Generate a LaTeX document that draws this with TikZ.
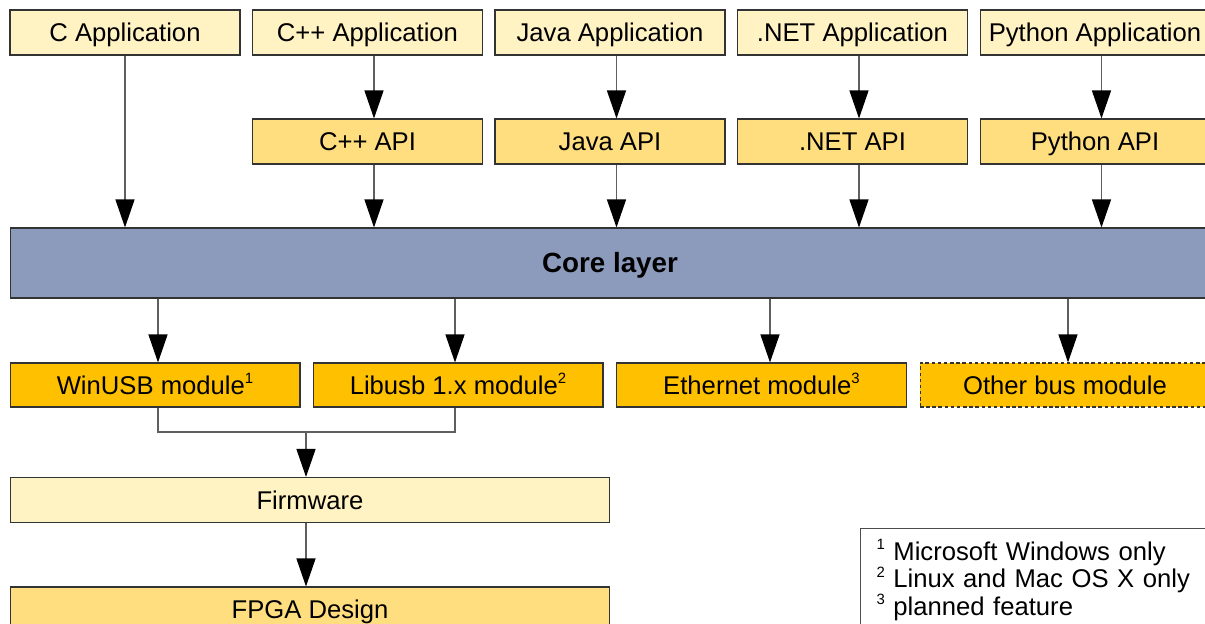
\documentclass[tikz,border=0pt]{standalone}
\usepackage{fontspec}
\setmainfont{Liberation Sans}
\usetikzlibrary{arrows.meta}

\definecolor{appfill}{RGB}{255,242,195}
\definecolor{apifill}{RGB}{255,222,128}
\definecolor{modfill}{RGB}{255,192,0}
\definecolor{corefill}{RGB}{140,154,188}
\definecolor{linegray}{RGB}{95,95,95}

\newcommand{\fnmark}[1]{\raisebox{0.42em}{\fontsize{8.5}{8.5}\selectfont #1}}

\tikzset{
  box/.style={draw=black!80, line width=0.6pt, inner sep=0pt,
    text height=10.4pt, text depth=0pt,
    font=\fontsize{14.6}{17}\selectfont},
  appbox/.style={box, fill=appfill, minimum width=4.6cm, minimum height=0.9cm},
  apibox/.style={box, fill=apifill, minimum width=4.6cm, minimum height=0.9cm},
  modbox/.style={box, fill=modfill, minimum width=5.8cm, minimum height=0.88cm},
  corebox/.style={box, fill=corefill, minimum width=24cm, minimum height=1.4cm,
    text height=11.3pt, font=\fontsize{15.8}{18}\selectfont\bfseries},
  widebox/.style={box, minimum width=12cm, minimum height=0.9cm},
  link/.style={draw=linegray, line width=0.7pt},
  arr/.style={link, -{Triangle[length=5.6mm,width=3.8mm,color=black]}}
}

\begin{document}
\begin{tikzpicture}[x=0.02cm, y=-0.02cm]
			\useasboundingbox (0,0) rectangle (1205,624);
			\clip (0,0) rectangle (1205,624);

			% applications
			\node[appbox] (capp) at (125,32.5) {C Application};
			\node[appbox] (cppapp) at (367.5,32.5) {C++ Application};
			\node[appbox] (javaapp) at (610,32.5) {Java Application};
			\node[appbox] (netapp) at (852.5,32.5) {.NET Application};
			\node[appbox] (pyapp) at (1095,32.5) {Python Application};

			% language bindings
			\node[apibox] (cppapi) at (367.5,141.5) {C++ API};
			\node[apibox] (javaapi) at (610,141.5) {Java API};
			\node[apibox] (netapi) at (852.5,141.5) {.NET API};
			\node[apibox] (pyapi) at (1095,141.5) {Python API};

			\node[corebox] (core) at (610,263) {Core layer};

			% bus modules
			\node[modbox] (winusb) at (155,385) {WinUSB module\fnmark{1}};
			\node[modbox] (libusb) at (458,385) {Libusb 1.x module\fnmark{2}};
			\node[modbox] (eth) at (761.5,385) {Ethernet module\fnmark{3}};
			\node[modbox, dash pattern=on 2pt off 1.5pt] (otherbus) at (1065,385) {Other bus module};

			\node[widebox, fill=appfill] (firmware) at (310,500) {Firmware};
			\node[widebox, fill=apifill] (fpga) at (310,609.5) {FPGA Design};

			\node[draw=black!70, line width=0.6pt, anchor=north west, align=left,
				text width=6.8cm, inner xsep=0.32cm, inner ysep=0.22cm,
				font=\fontsize{14.6}{15.6}\selectfont] (notes) at (860,528)
				{\fnmark{1} Microsoft Windows only\\
				 \fnmark{2} Linux and Mac OS X only\\
				 \fnmark{3} planned feature};

			% arrows
			\draw[arr] (capp.south) -- (capp.south |- core.north);
			\draw[arr] ([xshift=0.13cm]cppapp.south) -- ([xshift=0.13cm]cppapi.north);
			\draw[arr] ([xshift=0.13cm]javaapp.south) -- ([xshift=0.13cm]javaapi.north);
			\draw[arr] ([xshift=0.13cm]netapp.south) -- ([xshift=0.13cm]netapi.north);
			\draw[arr] ([xshift=0.13cm]pyapp.south) -- ([xshift=0.13cm]pyapi.north);
			\draw[arr] ([xshift=0.13cm]cppapi.south) -- ([xshift=0.13cm]cppapi.south |- core.north);
			\draw[arr] ([xshift=0.13cm]javaapi.south) -- ([xshift=0.13cm]javaapi.south |- core.north);
			\draw[arr] ([xshift=0.13cm]netapi.south) -- ([xshift=0.13cm]netapi.south |- core.north);
			\draw[arr] ([xshift=0.13cm]pyapi.south) -- ([xshift=0.13cm]pyapi.south |- core.north);

			\draw[arr] ([xshift=0.06cm]winusb.north |- core.south) -- ([xshift=0.06cm]winusb.north);
			\draw[arr] ([xshift=-0.06cm]libusb.north |- core.south) -- ([xshift=-0.06cm]libusb.north);
			\draw[arr] ([xshift=0.17cm]eth.north |- core.south) -- ([xshift=0.17cm]eth.north);
			\draw[arr] ([xshift=0.06cm]otherbus.north |- core.south) -- ([xshift=0.06cm]otherbus.north);

			\coordinate (merge) at (306,432);
			\draw[link] ([xshift=0.06cm]winusb.south) |- (merge) -| ([xshift=-0.06cm]libusb.south);
			\draw[arr] (merge) -- (merge |- firmware.north);
			\draw[arr] (merge |- firmware.south) -- (merge |- fpga.north);
		\end{tikzpicture}
\end{document}
